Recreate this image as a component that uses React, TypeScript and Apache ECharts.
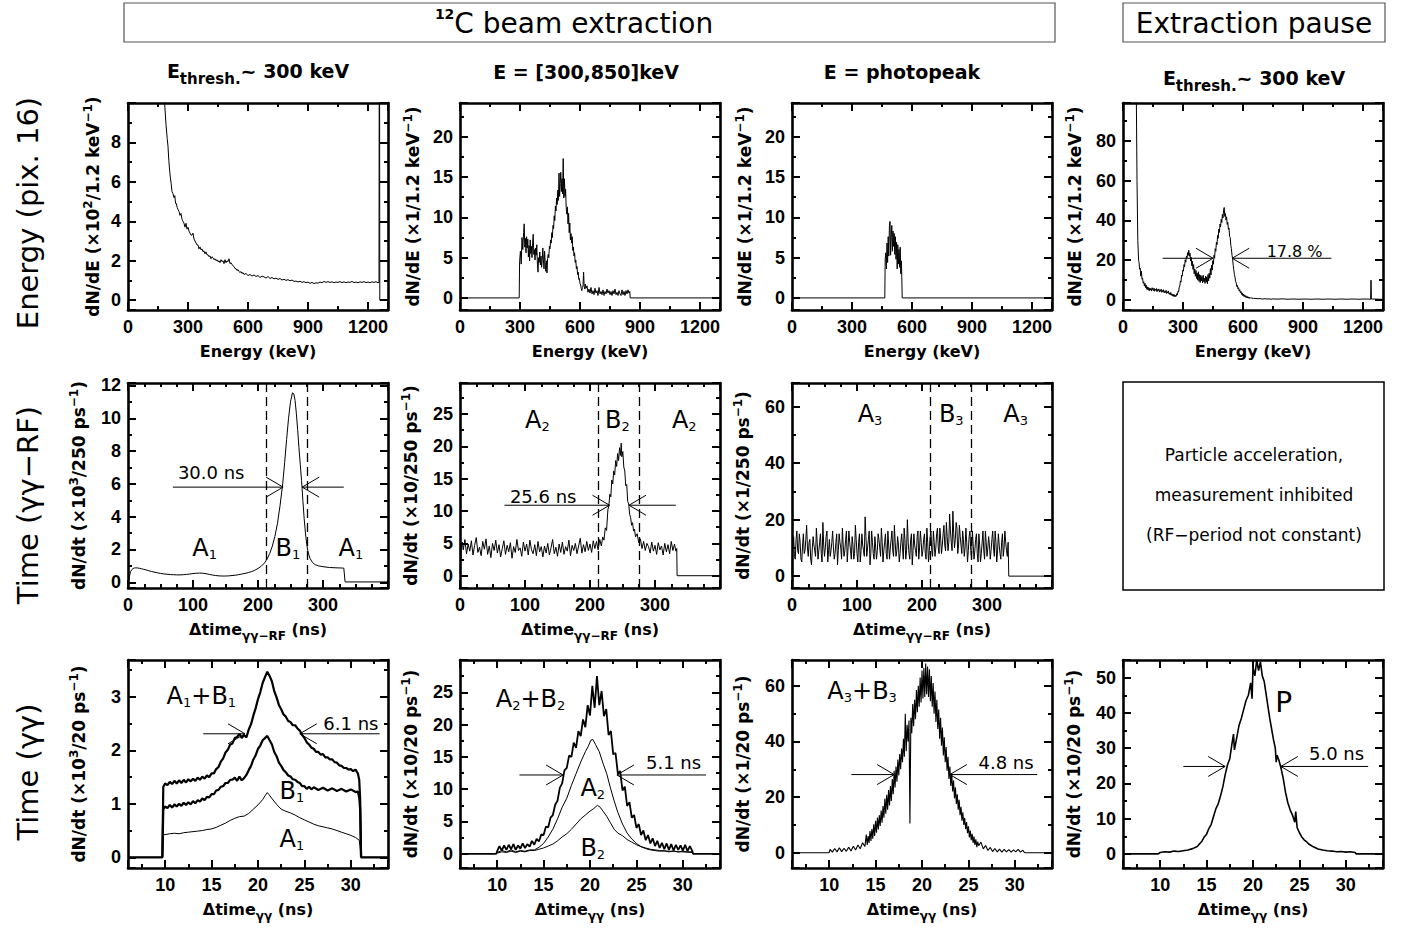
import React, { useEffect, useRef } from 'react';
import * as echarts from 'echarts';

const FONT = "'DejaVu Sans', 'Noto Sans', sans-serif";
const NUM_FONT = "'Liberation Sans', 'DejaVu Sans', sans-serif";

// ---------------- tick label lists ----------------
const ENERGY_TICKS = [0, 300, 600, 900, 1200];
const RF_TICKS = [0, 100, 200, 300];
const GG_TICKS = [10, 15, 20, 25, 30];
const P1_YTICKS = [0, 2, 4, 6, 8];
const E_WIN_YTICKS = [0, 5, 10, 15, 20];
const E_PAUSE_YTICKS = [0, 20, 40, 60, 80];
const RF1_YTICKS = [0, 2, 4, 6, 8, 10, 12];
const RF2_YTICKS = [0, 5, 10, 15, 20, 25];
const RF3_YTICKS = [0, 20, 40, 60];
const GG1_YTICKS = [0, 1, 2, 3];
const GG2_YTICKS = [0, 5, 10, 15, 20, 25];
const GG3_YTICKS = [0, 20, 40, 60];
const GG4_YTICKS = [0, 10, 20, 30, 40, 50];

// ---------------- row 1 : energy spectra (keV, counts) ----------------
const E_BEAM_THRESH = [
  [160, 14], [175, 11.5], [183, 10], [190, 8.9], [196, 8.2], [200, 7.8], [204, 7.1], [208, 6.6], [212, 6.2], [216, 5.9],
  [220, 5.5], [225, 5.4], [230, 5.2], [234, 5.3], [238, 4.9], [242, 4.9], [246, 4.7], [250, 4.6], [255, 4.5], [260, 4.3],
  [265, 4.4], [270, 4.1], [275, 4.0], [280, 3.9], [285, 3.7], [290, 3.9], [295, 3.6], [300, 3.7], [305, 3.5], [310, 3.4],
  [315, 3.3], [320, 3.3], [325, 3.4], [330, 3.1], [335, 3.0], [340, 2.9], [345, 2.8], [350, 2.8], [355, 2.6], [360, 2.7],
  [365, 2.55], [370, 2.6], [375, 2.45], [380, 2.5], [385, 2.35], [390, 2.45], [395, 2.3], [400, 2.3], [405, 2.2], [410, 2.25],
  [415, 2.1], [420, 2.2], [425, 2.15], [430, 2.05], [435, 2.1], [440, 2.0], [445, 2.05], [450, 1.95], [455, 2.0], [460, 1.9],
  [465, 2.05], [470, 1.95], [475, 2.0], [480, 1.85], [485, 2.05], [490, 1.9], [495, 2.0], [500, 1.95], [505, 2.1], [510, 1.85],
  [515, 1.9], [520, 1.8], [525, 1.75], [530, 1.7], [535, 1.6], [540, 1.6], [545, 1.5], [550, 1.55], [555, 1.45], [560, 1.4],
  [565, 1.45], [570, 1.35], [575, 1.4], [580, 1.3], [590, 1.35], [600, 1.25], [610, 1.3], [620, 1.22], [630, 1.28], [640, 1.2],
  [650, 1.25], [660, 1.15], [670, 1.22], [680, 1.18], [690, 1.12], [700, 1.2], [710, 1.1], [720, 1.15], [730, 1.08], [740, 1.12],
  [750, 1.05], [760, 1.1], [770, 1.02], [780, 1.06], [790, 1.0], [800, 1.04], [810, 0.98], [820, 1.02], [830, 0.95], [840, 0.97],
  [850, 0.92], [860, 0.96], [870, 0.9], [880, 0.94], [890, 0.88], [900, 0.92], [910, 0.85], [920, 0.9], [930, 0.84], [940, 0.88],
  [950, 0.86], [960, 0.92], [970, 0.88], [980, 0.95], [990, 0.9], [1000, 0.94], [1010, 0.9], [1020, 0.93], [1030, 0.88], [1040, 0.92],
  [1050, 0.9], [1060, 0.94], [1070, 0.89], [1080, 0.93], [1090, 0.88], [1100, 0.92], [1110, 0.9], [1120, 0.95], [1130, 0.89], [1140, 0.92],
  [1150, 0.88], [1160, 0.93], [1170, 0.9], [1180, 0.94], [1190, 0.89], [1200, 0.92], [1210, 0.88], [1220, 0.93], [1230, 0.9], [1240, 0.94],
  [1250, 0.88], [1255, 0.9], [1257, 20], [1259, 0], [1300, 0],
];

const E_BEAM_WINDOW = [
  [0, 0], [296, 0], [298, 4.5], [302, 5.8], [306, 4.2], [310, 7.5], [314, 6.0], [318, 8.1], [321, 9.2], [324, 6.3],
  [327, 7.4], [330, 5.6], [333, 7.6], [336, 6.2], [339, 7.3], [342, 5.1], [345, 6.5], [348, 4.6], [351, 7.2], [354, 5.5],
  [357, 6.4], [360, 5.0], [363, 6.8], [366, 7.9], [369, 5.4], [372, 6.0], [375, 4.7], [378, 6.2], [381, 5.3], [384, 6.6],
  [387, 4.2], [390, 3.2], [393, 5.0], [396, 4.4], [399, 5.7], [402, 4.1], [405, 5.2], [408, 3.8], [411, 4.6], [414, 6.2],
  [417, 4.8], [420, 3.6], [423, 5.8], [426, 4.4], [429, 3.3], [432, 4.6], [435, 3.1], [438, 4.9], [441, 5.4], [444, 5.0],
  [447, 6.4], [450, 6.1], [453, 7.2], [456, 6.8], [459, 8.1], [462, 7.5], [465, 9.0], [468, 8.6], [471, 10.2], [474, 9.6],
  [477, 11.4], [480, 10.8], [483, 12.4], [486, 11.6], [489, 13.4], [492, 12.1], [495, 15.5], [498, 12.6], [501, 14.2], [504, 15.6],
  [507, 13.2], [510, 14.8], [513, 12.9], [516, 17.3], [519, 12.4], [522, 14.8], [525, 12.6], [528, 13.5], [531, 11.2], [534, 10.4],
  [537, 11.3], [540, 9.2], [543, 10.5], [546, 8.1], [549, 9.3], [552, 7.2], [555, 8.0], [558, 6.8], [561, 7.6], [564, 5.9],
  [567, 6.3], [570, 5.2], [573, 5.6], [576, 4.4], [579, 4.7], [582, 3.6], [585, 3.9], [588, 2.9], [591, 3.2], [594, 2.3],
  [597, 2.4], [600, 1.8], [603, 1.6], [606, 1.2], [609, 0.9], [612, 1.3], [615, 1.5], [618, 3.2], [621, 1.4], [624, 1.1],
  [627, 1.7], [630, 1.2], [635, 1.5], [640, 0.7], [645, 1.1], [650, 0.6], [655, 1.3], [660, 0.5], [665, 0.9], [670, 0.4],
  [675, 1.2], [680, 0.6], [685, 0.9], [690, 0.3], [695, 1.3], [700, 0.5], [705, 0.8], [710, 0.4], [715, 1.0], [720, 0.3],
  [725, 0.8], [730, 0.5], [735, 1.1], [740, 0.6], [745, 0.9], [750, 0.4], [755, 0.8], [760, 0.3], [765, 0.9], [770, 0.5],
  [775, 1.1], [780, 0.4], [785, 0.7], [790, 0.3], [795, 0.9], [800, 0.5], [805, 0.3], [810, 1.0], [815, 0.4], [820, 0.8],
  [825, 0.3], [830, 0.9], [835, 0.5], [840, 1.0], [845, 0.6], [849, 0.8], [851, 0], [1300, 0],
];

const E_BEAM_PHOTOPEAK = [
  [0, 0], [464, 0], [466, 4.8], [469, 5.6], [472, 3.6], [475, 6.8], [478, 4.4], [481, 7.6], [484, 5.2], [487, 8.8],
  [490, 9.5], [493, 5.3], [496, 7.5], [499, 9.0], [502, 5.8], [505, 8.3], [508, 6.4], [511, 8.0], [514, 5.4], [517, 7.6],
  [520, 4.8], [523, 6.9], [526, 3.6], [529, 6.6], [532, 4.2], [535, 6.0], [538, 3.8], [541, 6.3], [544, 3.0], [547, 4.6],
  [549, 2.5], [551, 0], [1300, 0],
];

const E_PAUSE_THRESH = [
  [62, 120], [66, 110], [70, 60], [74, 30], [78, 20], [80, 19], [83, 15.5], [86, 16], [89, 12], [92, 14.5],
  [95, 10.5], [98, 11], [101, 8.5], [104, 9.2], [107, 7], [110, 8.4], [113, 6.2], [116, 7.5], [119, 5.4], [122, 6.6],
  [125, 5.1], [128, 6.3], [131, 4.6], [134, 6.0], [137, 5.0], [140, 5.8], [143, 4.5], [146, 6.2], [149, 5.2], [152, 4.8],
  [155, 6.0], [158, 4.4], [161, 5.5], [164, 4.9], [167, 5.8], [170, 4.2], [173, 5.3], [176, 4.7], [179, 5.6], [182, 4.0],
  [185, 5.1], [188, 4.4], [191, 5.5], [194, 3.9], [197, 4.8], [200, 4.1], [203, 5.2], [206, 3.6], [209, 4.4], [212, 3.8],
  [215, 4.9], [218, 3.3], [221, 4.2], [224, 3.5], [227, 4.6], [230, 3.0], [233, 3.6], [236, 2.6], [239, 3.8], [242, 2.4],
  [245, 3.1], [248, 2.0], [251, 2.9], [254, 1.8], [257, 2.7], [260, 1.6], [263, 2.4], [266, 1.9], [269, 3.2], [272, 2.5],
  [275, 4.4], [278, 4.0], [281, 6.5], [284, 7.0], [287, 9.6], [290, 9.0], [293, 12.5], [296, 12.0], [299, 15.0], [302, 14.5],
  [305, 17.8], [308, 16.8], [311, 20.2], [314, 19.0], [317, 22.1], [320, 21.2], [323, 23.8], [326, 22.4], [329, 25.0], [332, 22.0],
  [335, 23.5], [338, 19.6], [341, 21.5], [344, 17.2], [347, 19.5], [350, 15.4], [353, 17.8], [356, 13.2], [359, 15.6], [362, 12.0],
  [365, 14.8], [368, 10.8], [371, 13.5], [374, 10.0], [377, 14.2], [380, 9.4], [383, 12.8], [386, 8.8], [389, 12.4], [392, 9.6],
  [395, 11.8], [398, 8.6], [401, 12.5], [404, 9.2], [407, 11.0], [410, 8.4], [413, 12.0], [416, 9.0], [419, 11.6], [422, 8.2],
  [425, 12.8], [428, 9.6], [431, 13.5], [434, 11.0], [437, 15.8], [440, 12.6], [443, 17.5], [446, 15.0], [449, 19.8], [452, 18.0],
  [455, 22.5], [458, 21.0], [461, 25.8], [464, 24.5], [467, 29.0], [470, 27.8], [473, 32.5], [476, 31.0], [479, 35.6], [482, 34.0],
  [485, 38.2], [488, 36.8], [491, 40.5], [494, 39.0], [497, 43.0], [500, 41.2], [503, 45.2], [506, 46.5], [509, 42.0], [512, 43.5],
  [515, 40.2], [518, 41.8], [521, 38.0], [524, 39.0], [527, 35.5], [530, 36.2], [533, 32.0], [536, 31.5], [539, 27.5], [542, 25.8],
  [545, 22.5], [548, 20.8], [551, 17.5], [554, 15.2], [557, 12.8], [560, 11.5], [563, 9.4], [566, 8.6], [569, 6.8], [572, 7.4],
  [575, 5.6], [578, 6.2], [581, 4.5], [584, 5.2], [587, 3.6], [590, 4.3], [593, 2.8], [596, 3.6], [599, 2.2], [602, 3.0],
  [605, 1.8], [608, 2.6], [611, 1.4], [614, 2.2], [617, 1.2], [620, 1.9], [623, 1.0], [626, 1.6], [629, 0.9], [632, 1.4],
  [635, 0.8], [640, 1.3], [645, 0.7], [650, 1.1], [655, 0.6], [660, 1.0], [665, 0.6], [670, 0.9], [675, 0.5], [680, 0.8],
  [690, 0.6], [700, 0.5], [710, 0.7], [720, 0.5], [730, 0.6], [740, 0.4], [750, 0.6], [760, 0.5], [780, 0.5], [800, 0.6],
  [820, 0.4], [840, 0.5], [860, 0.5], [880, 0.4], [900, 0.5], [920, 0.5], [940, 0.4], [960, 0.5], [980, 0.5], [1000, 0.4],
  [1020, 0.5], [1040, 0.5], [1060, 0.4], [1080, 0.5], [1100, 0.5], [1120, 0.4], [1140, 0.5], [1160, 0.5], [1180, 0.4], [1200, 0.5],
  [1220, 0.5], [1238, 0.4], [1240, 10], [1242, 0.5], [1260, 0.5], [1280, 0.4], [1300, 0.4],
];

// ---------------- row 2 : gamma-gamma minus RF time (ns, counts) ----------------
const RF_THRESH = [
  [1, 0.1], [2, 0.3], [3, 0.5], [4, 0.65], [6, 0.78], [8, 0.84], [10, 0.87], [12, 0.88], [15, 0.87], [18, 0.85],
  [21, 0.82], [24, 0.79], [28, 0.75], [32, 0.7], [36, 0.66], [40, 0.62], [45, 0.58], [50, 0.54], [55, 0.51], [60, 0.49],
  [65, 0.47], [70, 0.46], [75, 0.45], [80, 0.45], [85, 0.46], [90, 0.48], [95, 0.5], [100, 0.53], [105, 0.55], [110, 0.56],
  [115, 0.55], [120, 0.52], [125, 0.48], [130, 0.44], [135, 0.41], [140, 0.39], [145, 0.38], [150, 0.38], [155, 0.39], [160, 0.41],
  [165, 0.43], [170, 0.46], [175, 0.5], [180, 0.54], [185, 0.59], [190, 0.65], [195, 0.73], [200, 0.84], [205, 0.98], [210, 1.18],
  [214, 1.42], [218, 1.75], [222, 2.2], [226, 2.8], [230, 3.6], [234, 4.7], [238, 6.0], [241, 7.3], [244, 8.7], [247, 10.0],
  [250, 11.0], [253, 11.55], [255, 11.5], [257, 11.1], [259, 10.3], [261, 9.3], [263, 8.2], [265, 7.2], [267, 6.2], [269, 5.0],
  [271, 3.9], [273, 3.0], [275, 2.3], [277, 1.85], [280, 1.45], [284, 1.2], [288, 1.07], [293, 1.0], [300, 0.95], [310, 0.9],
  [320, 0.88], [328, 0.87], [332, 0.86], [333, 0.85], [334, 0.02], [400, 0.02],
];

const RF_WINDOW = [
  [0, 0.3], [1, 2.2], [2, 3.9], [3.5, 5.2], [5, 4.0], [7.5, 5.6], [10, 3.4], [12.5, 4.9], [15, 3.8], [17.5, 5.4],
  [20, 3.2], [22.5, 4.7], [25, 5.9], [27.5, 3.6], [30, 4.4], [32.5, 3.1], [35, 5.3], [37.5, 4.1], [40, 5.7], [42.5, 3.3],
  [45, 4.6], [47.5, 2.8], [50, 5.0], [52.5, 3.9], [55, 5.5], [57.5, 3.5], [60, 4.8], [62.5, 2.9], [65, 4.2], [67.5, 5.4],
  [70, 3.3], [72.5, 4.7], [75, 3.7], [77.5, 5.1], [80, 2.7], [82.5, 4.5], [85, 3.6], [87.5, 5.6], [90, 3.9], [92.5, 4.3],
  [95, 3.0], [97.5, 5.2], [100, 3.8], [102.5, 4.9], [105, 3.2], [107.5, 5.5], [110, 4.0], [112.5, 3.4], [115, 4.8], [117.5, 3.1],
  [120, 5.3], [122.5, 3.7], [125, 4.5], [127.5, 2.9], [130, 4.6], [132.5, 3.5], [135, 5.0], [137.5, 3.2], [140, 4.3], [142.5, 5.6],
  [145, 3.4], [147.5, 4.4], [150, 3.0], [152.5, 4.9], [155, 3.6], [157.5, 5.2], [160, 3.3], [162.5, 4.5], [165, 3.8], [167.5, 5.5],
  [170, 3.1], [172.5, 4.7], [175, 3.9], [177.5, 5.0], [180, 3.4], [182.5, 4.6], [185, 5.8], [187.5, 3.5], [190, 4.8], [192.5, 3.7],
  [195, 5.3], [197.5, 3.9], [200, 4.9], [202.5, 3.6], [205, 5.4], [207.5, 4.2], [210, 5.3], [212.5, 4.0], [215, 5.6], [217.5, 4.6],
  [219.5, 6.0], [221.5, 5.5], [223.5, 7.4], [225.5, 7.0], [227.5, 10.2], [229, 10.8], [230.5, 12.6], [232, 12.2], [233.5, 14.8], [235, 14.2],
  [236.5, 16.2], [238, 15.6], [239.5, 17.8], [241, 16.9], [242.5, 18.9], [244, 17.8], [245.5, 19.8], [247, 18.6], [248, 20.5], [249, 18.4],
  [250.5, 19.2], [252, 16.8], [253.5, 16.2], [255, 13.9], [256.5, 14.1], [258, 11.5], [259.5, 11.1], [261, 9.5], [262.5, 9.0], [264, 7.8],
  [265.5, 8.2], [267, 6.9], [268.5, 7.2], [270, 6.0], [272.5, 6.5], [275, 5.1], [277.5, 5.7], [280, 4.2], [282.5, 5.3], [285, 3.9],
  [287.5, 5.0], [290, 4.5], [292.5, 3.5], [295, 5.2], [297.5, 3.8], [300, 4.7], [302.5, 3.3], [305, 5.1], [307.5, 4.0], [310, 4.6],
  [312.5, 3.2], [315, 5.0], [317.5, 3.7], [320, 4.8], [322.5, 3.4], [325, 5.3], [327.5, 3.9], [330, 4.9], [332, 3.8], [333.5, 4.2],
  [334, 0], [400, 0],
];

const RF_PHOTOPEAK = [
  [0, 0.5], [0.6, 8], [1.25, 11], [2.5, 14], [3.75, 7], [5, 6], [6.25, 13], [7.5, 16], [8.75, 9], [10, 8],
  [11.25, 15], [12.5, 12], [13.75, 6], [15, 5], [16.25, 11], [17.5, 15], [18.75, 8], [20, 9], [21.25, 13], [22.5, 18],
  [23.75, 10], [25, 7], [26.25, 12], [27.5, 13], [28.75, 6], [30, 4], [31.25, 10], [32.5, 14], [33.75, 11], [35, 9],
  [36.25, 7], [37.5, 17], [38.75, 12], [40, 6], [41.25, 9], [42.5, 12], [43.75, 15], [45, 8], [46.25, 5], [47.5, 19],
  [48.75, 11], [50, 7], [51.25, 10], [52.5, 14], [53.75, 16], [55, 5], [56.25, 9], [57.5, 13], [58.75, 7], [60, 9],
  [61.25, 12], [62.5, 16], [63.75, 10], [65, 6], [66.25, 8], [67.5, 12], [68.75, 15], [70, 4], [71.25, 9], [72.5, 15],
  [73.75, 12], [75, 10], [76.25, 6], [77.5, 17], [78.75, 11], [80, 7], [81.25, 9], [82.5, 13], [83.75, 16], [85, 5],
  [86.25, 10], [87.5, 16], [88.75, 12], [90, 9], [91.25, 6], [92.5, 14], [93.75, 11], [95, 6], [96.25, 8], [97.5, 18],
  [98.75, 13], [100, 8], [101.25, 5], [102.5, 12], [103.75, 15], [105, 5], [106.25, 9], [107.5, 15], [108.75, 11], [110, 9],
  [111.25, 7], [112.5, 21], [113.75, 14], [115, 7], [116.25, 10], [117.5, 13], [118.75, 16], [120, 4], [121.25, 8], [122.5, 16],
  [123.75, 12], [125, 8], [126.25, 6], [127.5, 14], [128.75, 10], [130, 6], [131.25, 9], [132.5, 15], [133.75, 13], [135, 10],
  [136.25, 7], [137.5, 17], [138.75, 12], [140, 5], [141.25, 9], [142.5, 12], [143.75, 15], [145, 8], [146.25, 6], [147.5, 16],
  [148.75, 11], [150, 6], [151.25, 10], [152.5, 13], [153.75, 16], [155, 9], [156.25, 7], [157.5, 18], [158.75, 12], [160, 7],
  [161.25, 9], [162.5, 14], [163.75, 11], [165, 5], [166.25, 8], [167.5, 12], [168.75, 15], [170, 10], [171.25, 6], [172.5, 17],
  [173.75, 13], [175, 6], [176.25, 9], [177.5, 20], [178.75, 12], [180, 8], [181.25, 6], [182.5, 13], [183.75, 15], [185, 4],
  [186.25, 9], [187.5, 15], [188.75, 11], [190, 9], [191.25, 7], [192.5, 14], [193.75, 16], [195, 6], [196.25, 10], [197.5, 16],
  [198.75, 12], [200, 7], [201.25, 9], [202.5, 13], [203.75, 15], [205, 8], [206.25, 6], [207.5, 17], [208.75, 12], [210, 5],
  [211.25, 9], [212.5, 14], [213.75, 16], [215, 9], [216.25, 7], [217.5, 16], [218.75, 12], [220, 7], [221.25, 10], [222.5, 15],
  [223.75, 17], [225, 10], [226.25, 8], [227.5, 17], [228.75, 13], [230, 8], [231.25, 11], [232.5, 15], [233.75, 18], [235, 11],
  [236.25, 9], [237.5, 19], [238.75, 14], [240, 9], [241.25, 12], [242.5, 22], [243.75, 16], [245, 12], [246.25, 9], [247.5, 23],
  [248.75, 15], [250, 10], [251.25, 13], [252.5, 19], [253.75, 17], [255, 8], [256.25, 11], [257.5, 18], [258.75, 14], [260, 11],
  [261.25, 8], [262.5, 16], [263.75, 13], [265, 7], [266.25, 10], [267.5, 17], [268.75, 12], [270, 5], [271.25, 9], [272.5, 14],
  [273.75, 16], [275, 9], [276.25, 6], [277.5, 16], [278.75, 11], [280, 6], [281.25, 9], [282.5, 13], [283.75, 15], [285, 8],
  [286.25, 5], [287.5, 15], [288.75, 11], [290, 5], [291.25, 8], [292.5, 12], [293.75, 16], [295, 9], [296.25, 6], [297.5, 16],
  [298.75, 12], [300, 7], [301.25, 10], [302.5, 14], [303.75, 11], [305, 6], [306.25, 9], [307.5, 13], [308.75, 16], [310, 10],
  [311.25, 7], [312.5, 16], [313.75, 12], [315, 5], [316.25, 9], [317.5, 15], [318.75, 11], [320, 8], [321.25, 6], [322.5, 12],
  [323.75, 15], [325, 7], [326.25, 10], [327.5, 16], [328.75, 12], [330, 9], [331.25, 7], [332.5, 12], [333.5, 0], [400, 0],
];

// ---------------- row 3 : gamma-gamma time (ns, counts) ----------------
const GG_THRESH_AB = [
  [6, 0], [9.7, 0], [9.8, 1.32], [10, 1.38], [10.25, 1.35], [10.5, 1.41], [10.75, 1.37], [11, 1.43], [11.25, 1.38], [11.5, 1.44],
  [11.75, 1.39], [12, 1.45], [12.25, 1.40], [12.5, 1.46], [12.75, 1.42], [13, 1.47], [13.25, 1.43], [13.5, 1.49], [13.75, 1.45], [14, 1.51],
  [14.25, 1.47], [14.5, 1.53], [14.75, 1.50], [15, 1.57], [15.25, 1.57], [15.5, 1.65], [15.75, 1.69], [16, 1.79], [16.25, 1.85], [16.5, 1.96],
  [16.75, 2.01], [17, 2.11], [17.25, 2.13], [17.5, 2.23], [17.75, 2.25], [18, 2.31], [18.25, 2.23], [18.5, 2.29], [18.75, 2.24], [19, 2.39],
  [19.25, 2.49], [19.5, 2.65], [19.75, 2.79], [20, 2.96], [20.25, 3.09], [20.5, 3.26], [20.75, 3.37], [21, 3.47], [21.25, 3.39], [21.5, 3.29],
  [21.75, 3.11], [22, 2.99], [22.25, 2.85], [22.5, 2.77], [22.75, 2.67], [23, 2.63], [23.25, 2.55], [23.5, 2.53], [23.75, 2.47], [24, 2.47],
  [24.25, 2.41], [24.5, 2.37], [24.75, 2.29], [25, 2.23], [25.25, 2.15], [25.5, 2.11], [25.75, 2.05], [26, 2.03], [26.25, 1.97], [26.5, 1.97],
  [26.75, 1.92], [27, 1.93], [27.25, 1.87], [27.5, 1.87], [27.75, 1.83], [28, 1.83], [28.25, 1.78], [28.5, 1.77], [28.75, 1.72], [29, 1.71],
  [29.25, 1.67], [29.5, 1.67], [29.75, 1.64], [30, 1.65], [30.25, 1.61], [30.5, 1.64], [30.75, 1.57], [30.9, 1.45], [31, 1.1], [31.1, 0],
  [34, 0],
];

const GG_THRESH_B = [
  [9.7, 0], [9.8, 0.9], [10, 0.95], [10.25, 0.92], [10.5, 0.98], [10.75, 0.93], [11, 0.99], [11.25, 0.95], [11.5, 1.0], [11.75, 0.96],
  [12, 1.02], [12.25, 0.98], [12.5, 1.03], [12.75, 0.99], [13, 1.05], [13.25, 1.01], [13.5, 1.07], [13.75, 1.04], [14, 1.1], [14.25, 1.07],
  [14.5, 1.13], [14.75, 1.12], [15, 1.18], [15.25, 1.18], [15.5, 1.25], [15.75, 1.26], [16, 1.32], [16.25, 1.33], [16.5, 1.39], [16.75, 1.39],
  [17, 1.45], [17.25, 1.45], [17.5, 1.49], [17.75, 1.43], [18, 1.51], [18.25, 1.44], [18.5, 1.48], [18.75, 1.54], [19, 1.63], [19.25, 1.71],
  [19.5, 1.83], [19.75, 1.91], [20, 2.03], [20.25, 2.09], [20.5, 2.19], [20.75, 2.23], [21, 2.27], [21.25, 2.19], [21.5, 2.11], [21.75, 1.97],
  [22, 1.89], [22.25, 1.77], [22.5, 1.71], [22.75, 1.63], [23, 1.59], [23.25, 1.53], [23.5, 1.51], [23.75, 1.46], [24, 1.45], [24.25, 1.41],
  [24.5, 1.39], [24.75, 1.33], [25, 1.33], [25.25, 1.28], [25.5, 1.32], [25.75, 1.27], [26, 1.31], [26.5, 1.26], [27, 1.3], [27.5, 1.25],
  [28, 1.29], [28.5, 1.24], [29, 1.28], [29.5, 1.23], [30, 1.27], [30.5, 1.22], [30.75, 1.23], [30.9, 1.12], [31, 0.9], [31.1, 0],
];

const GG_THRESH_A = [
  [6, 0], [9.7, 0], [9.8, 0.42], [10.5, 0.44], [11, 0.45], [11.5, 0.44], [12, 0.46], [12.5, 0.47], [13, 0.48], [13.5, 0.49],
  [14, 0.5], [14.5, 0.52], [15, 0.53], [15.5, 0.56], [16, 0.6], [16.5, 0.64], [17, 0.69], [17.5, 0.73], [18, 0.76], [18.5, 0.77],
  [19, 0.82], [19.5, 0.9], [20, 0.98], [20.5, 1.08], [20.8, 1.16], [21, 1.21], [21.2, 1.17], [21.5, 1.1], [22, 0.99], [22.5, 0.9],
  [23, 0.86], [23.5, 0.83], [24, 0.79], [24.5, 0.74], [25, 0.7], [25.5, 0.66], [26, 0.62], [26.5, 0.59], [27, 0.57], [27.5, 0.55],
  [28, 0.53], [28.5, 0.5], [29, 0.47], [29.5, 0.44], [30, 0.41], [30.5, 0.37], [30.9, 0.32], [31, 0.2], [31.1, 0], [34, 0],
];

const GG_WINDOW_AB = [
  [6, 0], [9.9, 0], [10, 0.4], [10.25, 1.2], [10.5, 0.5], [10.75, 1.3], [11, 0.6], [11.25, 1.4], [11.5, 0.7], [11.75, 1.5],
  [12, 0.6], [12.25, 1.3], [12.5, 0.8], [12.75, 1.6], [13, 0.9], [13.25, 1.5], [13.5, 1.1], [13.75, 2.0], [14, 1.4], [14.25, 2.3],
  [14.5, 1.9], [14.75, 3.0], [15, 2.9], [15.25, 4.2], [15.5, 4.1], [15.75, 5.6], [16, 6.0], [16.25, 7.6], [16.5, 8.2], [16.75, 10.2],
  [17, 10.9], [17.25, 12.9], [17.5, 13.3], [17.75, 15.2], [18, 15.0], [18.25, 17.2], [18.5, 16.4], [18.75, 19.0], [19, 18.2], [19.25, 20.8],
  [19.5, 19.6], [19.75, 23.0], [20, 21.4], [20.25, 26.0], [20.5, 22.6], [20.75, 27.5], [21, 23.0], [21.25, 25.2], [21.5, 21.3], [21.75, 22.4],
  [22, 18.4], [22.25, 19.0], [22.5, 15.4], [22.75, 15.6], [23, 12.4], [23.25, 12.8], [23.5, 9.8], [23.75, 10.4], [24, 7.4], [24.25, 8.0],
  [24.5, 5.6], [24.75, 6.0], [25, 4.0], [25.25, 4.6], [25.5, 2.9], [25.75, 3.6], [26, 2.1], [26.25, 2.9], [26.5, 1.6], [26.75, 2.4],
  [27, 1.2], [27.25, 2.0], [27.5, 0.9], [27.75, 1.7], [28, 0.7], [28.25, 1.6], [28.5, 0.6], [28.75, 1.5], [29, 0.5], [29.25, 1.4],
  [29.5, 0.6], [29.75, 1.3], [30, 0.5], [30.25, 1.4], [30.5, 0.4], [30.75, 1.2], [31, 0.5], [31.1, 0], [34, 0],
];

const GG_WINDOW_A = [
  [10, 0.2], [10.5, 0.5], [11, 0.3], [11.5, 0.6], [12, 0.3], [12.5, 0.5], [13, 0.4], [13.5, 0.6], [14, 0.6], [14.5, 1.0],
  [15, 1.6], [15.5, 2.6], [16, 3.8], [16.5, 5.4], [17, 7.2], [17.5, 8.6], [18, 10.6], [18.5, 12.4], [19, 14.2], [19.5, 15.8],
  [19.8, 16.6], [20.1, 17.6], [20.3, 17.7], [20.6, 16.9], [21, 15.8], [21.4, 14.0], [21.8, 12.4], [22.2, 10.2], [22.6, 8.2], [23, 6.4],
  [23.5, 4.6], [24, 3.2], [24.5, 2.3], [25, 1.6], [25.5, 1.1], [26, 0.8], [26.5, 0.6], [27, 0.5], [27.5, 0.4], [28, 0.5],
  [28.5, 0.3], [29, 0.4], [29.5, 0.3], [30, 0.4], [30.5, 0.3], [31, 0.3],
];

const GG_WINDOW_B = [
  [10, 0.1], [10.5, 0.3], [11, 0.2], [11.5, 0.4], [12, 0.2], [12.5, 0.4], [13, 0.3], [13.5, 0.5], [14, 0.5], [14.5, 0.7],
  [15, 0.9], [15.5, 1.2], [16, 1.5], [16.5, 2.0], [17, 2.6], [17.5, 3.1], [18, 3.8], [18.5, 4.6], [19, 5.4], [19.5, 6.0],
  [20, 6.6], [20.4, 7.0], [20.8, 7.5], [21.1, 7.2], [21.4, 6.6], [21.8, 5.8], [22.2, 4.8], [22.6, 3.8], [23, 3.2], [23.5, 2.8],
  [24, 2.2], [24.5, 1.8], [25, 1.4], [25.5, 1.1], [26, 0.9], [26.5, 0.7], [27, 0.6], [27.5, 0.5], [28, 0.4], [29, 0.4],
  [29.5, 0.3], [30, 0.3], [31, 0.2],
];

const GG_PHOTOPEAK_AB = [
  [6, 0], [10, 0], [10.1, 1.2], [10.35, 0.2], [10.6, 1.5], [10.85, 0.3], [11.1, 1.8], [11.35, 0.4], [11.6, 1.6], [11.85, 0.5],
  [12.1, 2.0], [12.35, 0.6], [12.6, 2.3], [12.85, 1.0], [13.1, 2.8], [13.35, 1.4], [13.6, 3.6], [13.85, 2.2],
  [14.0, 6.5], [14.1, 2.8], [14.2, 6.0], [14.3, 3.5], [14.4, 7.8], [14.5, 4.2], [14.6, 8.5], [14.7, 5.0], [14.8, 10.2], [14.9, 6.0],
  [15.0, 11.5], [15.1, 7.2], [15.2, 12.6], [15.3, 8.4], [15.4, 13.5], [15.5, 9.6], [15.6, 15.2], [15.7, 10.8], [15.8, 16.8], [15.9, 12.6],
  [16.0, 19.5], [16.1, 14.0], [16.2, 20.8], [16.3, 15.5], [16.4, 22.5], [16.5, 17.0], [16.6, 24.0], [16.7, 18.6], [16.8, 26.5], [16.9, 21.0],
  [17.0, 29.5], [17.1, 23.5], [17.2, 31.0], [17.3, 25.5], [17.4, 33.5], [17.5, 27.8], [17.6, 35.5], [17.7, 30.0], [17.8, 37.5], [17.9, 32.5],
  [18.0, 41.0], [18.1, 34.5], [18.2, 50.0], [18.3, 36.5], [18.4, 46.0], [18.5, 40.0], [18.6, 47.5], [18.7, 10.5], [18.8, 48.5], [18.9, 43.0],
  [19.0, 53.5], [19.1, 45.5], [19.2, 55.0], [19.3, 48.0], [19.4, 58.5], [19.5, 50.5], [19.6, 60.0], [19.7, 52.5], [19.8, 63.0], [19.9, 54.0],
  [20.0, 65.5], [20.1, 55.5], [20.2, 66.5], [20.3, 56.0], [20.4, 68.0], [20.5, 57.0], [20.6, 67.0], [20.7, 56.0], [20.8, 66.0], [20.9, 54.5],
  [21.0, 63.5], [21.1, 52.5], [21.2, 61.0], [21.3, 50.0], [21.4, 58.0], [21.5, 47.0], [21.6, 55.0], [21.7, 44.5], [21.8, 51.5], [21.9, 41.0],
  [22.0, 48.5], [22.1, 38.5], [22.2, 45.0], [22.3, 35.0], [22.4, 41.5], [22.5, 32.5], [22.6, 38.0], [22.7, 29.5], [22.8, 34.5], [22.9, 26.5],
  [23.0, 31.0], [23.1, 24.0], [23.2, 28.5], [23.3, 22.0], [23.4, 26.0], [23.5, 19.5], [23.6, 23.5], [23.7, 17.5], [23.8, 21.0], [23.9, 15.5],
  [24.0, 19.0], [24.1, 13.5], [24.2, 16.5], [24.3, 11.5], [24.4, 14.5], [24.5, 10.0], [24.6, 12.5], [24.7, 8.5], [24.8, 11.0], [24.9, 7.0],
  [25.0, 9.5], [25.1, 5.5], [25.2, 8.0], [25.3, 4.5], [25.4, 6.8], [25.5, 3.5], [25.6, 5.8], [25.7, 2.8], [25.8, 4.8], [25.9, 2.0],
  [26.0, 4.0], [26.1, 2.5], [26.35, 3.8], [26.6, 1.4], [26.85, 2.6], [27.1, 0.8], [27.35, 1.9], [27.6, 0.4], [27.85, 1.5], [28.1, 0.3],
  [28.35, 1.3], [28.6, 0.2], [28.85, 1.2], [29.1, 0.3], [29.35, 1.1], [29.6, 0.2], [29.85, 1.0], [30.1, 0.3], [30.35, 1.2], [30.6, 0.2],
  [30.85, 0.9], [31, 0.2], [31.1, 0], [34, 0],
];

const GG_PAUSE_P = [
  [6, 0], [9.8, 0], [10, 0.4], [10.5, 0.6], [11, 0.5], [11.5, 0.8], [12, 0.7], [12.5, 0.9], [13, 1.1], [13.5, 1.5],
  [14, 2.1], [14.25, 2.9], [14.5, 3.6], [14.75, 4.8], [15, 5.6], [15.25, 7.2], [15.5, 8.4], [15.75, 10.6], [16, 12.8], [16.25, 14.2],
  [16.5, 16.4], [16.75, 19.0], [17, 22.4], [17.25, 25.2], [17.5, 27.0], [17.75, 31.5], [17.9, 34.0], [18, 29.5], [18.25, 33.0], [18.5, 36.5],
  [18.75, 38.5], [19, 41.0], [19.25, 43.5], [19.5, 45.0], [19.75, 48.5], [19.9, 44.0], [20, 53.0], [20.2, 50.5], [20.4, 55.0], [20.6, 52.0],
  [20.8, 54.5], [21, 50.5], [21.2, 49.0], [21.4, 45.5], [21.6, 42.0], [21.8, 38.5], [22, 35.5], [22.2, 32.5], [22.4, 30.0], [22.5, 26.0],
  [22.6, 28.0], [22.8, 26.5], [23, 24.5], [23.25, 21.5], [23.5, 17.5], [23.75, 14.5], [24, 12.5], [24.25, 11.0], [24.5, 9.0], [24.6, 12.0],
  [24.75, 7.5], [25, 6.0], [25.25, 4.8], [25.5, 4.0], [25.75, 3.5], [26, 2.8], [26.5, 2.0], [27, 1.4], [27.5, 1.1], [28, 0.9],
  [28.5, 0.8], [29, 0.6], [29.5, 0.7], [30, 0.5], [30.5, 0.6], [31, 0.4], [31.1, 0], [34, 0],
];

// ---------------- annotations (data coordinates) ----------------
const RF_GATE = [213, 276];
// [left shaft start, left arrow tip, right arrow tip, right shaft end, level]
const E_PAUSE_FWHM = [[198, 450, 546, 1042, 21]];
const RF_THRESH_FWHM = [[69, 238.6, 268, 332, 5.8]];
const RF_WINDOW_FWHM = [[68.5, 230, 260, 332, 10.9]];
const GG_THRESH_FWHM = [[14.1, 18.6, 24.5, 33.1, 2.31]];
const GG_WINDOW_FWHM = [[12.4, 17.1, 22.9, 32.5, 12.2]];
const GG_PHOTOPEAK_FWHM = [[12.4, 17.0, 23.0, 32.4, 28.1]];
const GG_PAUSE_FWHM = [[12.5, 17.0, 23.0, 32.4, 24.8]];

const E_PAUSE_NOTES = [['17.8 %', 858, 24.3]];
const RF_THRESH_NOTES = [['30.0 ns', 128, 6.7]];
const RF_WINDOW_NOTES = [['25.6 ns', 128, 12.3]];
const GG_THRESH_NOTES = [['6.1 ns', 30.0, 2.51]];
const GG_WINDOW_NOTES = [['5.1 ns', 29.0, 14.2]];
const GG_PHOTOPEAK_NOTES = [['4.8 ns', 29.05, 32.5]];
const GG_PAUSE_NOTES = [['5.0 ns', 29.0, 28.4]];

const RF_THRESH_TAGS = [['{m|A}{s|1}', 118, 2.0], ['{m|B}{s|1}', 246, 2.0], ['{m|A}{s|1}', 343, 2.0]];
const RF_WINDOW_TAGS = [['{m|A}{s|2}', 119, 23.9], ['{m|B}{s|2}', 242, 23.9], ['{m|A}{s|2}', 345, 23.9]];
const RF_PHOTOPEAK_TAGS = [['{m|A}{s|3}', 120, 57], ['{m|B}{s|3}', 245, 57], ['{m|A}{s|3}', 344, 57]];
const GG_THRESH_TAGS = [['{m|A}{s|1}{m|+B}{s|1}', 13.9, 3.0], ['{m|B}{s|1}', 23.65, 1.23], ['{m|A}{s|1}', 23.65, 0.33]];
const GG_WINDOW_TAGS = [['{m|A}{s|2}{m|+B}{s|2}', 13.6, 23.8], ['{m|A}{s|2}', 20.3, 10.1], ['{m|B}{s|2}', 20.3, 0.8]];
const GG_PHOTOPEAK_TAGS = [['{m|A}{s|3}{m|+B}{s|3}', 13.55, 57.8]];
const GG_PAUSE_TAGS = [['{m|P}', 23.3, 42.8]];

// ---------------- axis titles ----------------
const YN_E100 = '{b|dN/dE (×10}{p|2}{b|/1.2 keV}{p|−1}{b|)}';
const YN_E1 = '{b|dN/dE (×1/1.2 keV}{p|−1}{b|)}';
const YN_RF1000 = '{b|dN/dt (×10}{p|3}{b|/250 ps}{p|−1}{b|)}';
const YN_RF10 = '{b|dN/dt (×10/250 ps}{p|−1}{b|)}';
const YN_RF1 = '{b|dN/dt (×1/250 ps}{p|−1}{b|)}';
const YN_GG1000 = '{b|dN/dt (×10}{p|3}{b|/20 ps}{p|−1}{b|)}';
const YN_GG10 = '{b|dN/dt (×10/20 ps}{p|−1}{b|)}';
const YN_GG1 = '{b|dN/dt (×1/20 ps}{p|−1}{b|)}';
const XN_E = '{m|Energy (keV)}';
const XN_RF = '{m|Δtime}{s|γγ−RF}{m| (ns)}';
const XN_GG = '{m|Δtime}{s|γγ}{m| (ns)}';

// ---------------- layout ----------------
const COL_X = [128, 460, 792, 1123];
const ROW_Y = [103, 383, 660];
const ROW_H = [207, 205, 208];
const PW = 260;

const X_AXES: any = {
  E: { min: 0, max: 1300, step: 300, minor: 2, labels: ENERGY_TICKS, name: XN_E },
  RF: { min: 0, max: 400, step: 100, minor: 4, labels: RF_TICKS, name: XN_RF },
  GG: { min: 6, max: 34, step: 5, minor: 2, labels: GG_TICKS, name: XN_GG },
};

const PANELS: any[] = [
  { c: 0, r: 0, ax: 'E', y: [-0.5, 10, 2, 2], yl: P1_YTICKS, yn: YN_E100, gap: 27, lines: [[E_BEAM_THRESH, 1]] },
  { c: 1, r: 0, ax: 'E', y: [-1.5, 24.2, 5, 2], yl: E_WIN_YTICKS, yn: YN_E1, gap: 39, lines: [[E_BEAM_WINDOW, 1]] },
  { c: 2, r: 0, ax: 'E', y: [-1.5, 24.2, 5, 2], yl: E_WIN_YTICKS, yn: YN_E1, gap: 39, lines: [[E_BEAM_PHOTOPEAK, 1]] },
  { c: 3, r: 0, ax: 'E', y: [-5, 99, 20, 2], yl: E_PAUSE_YTICKS, yn: YN_E1, gap: 40, lines: [[E_PAUSE_THRESH, 1]], fwhm: E_PAUSE_FWHM, notes: E_PAUSE_NOTES, noteSize: 16 },
  { c: 0, r: 1, ax: 'RF', y: [-0.35, 12.15, 2, 2], yl: RF1_YTICKS, yn: YN_RF1000, gap: 41, lines: [[RF_THRESH, 1]], dash: RF_GATE, fwhm: RF_THRESH_FWHM, notes: RF_THRESH_NOTES, tags: RF_THRESH_TAGS },
  { c: 1, r: 1, ax: 'RF', y: [-1.9, 29.8, 5, 2], yl: RF2_YTICKS, yn: YN_RF10, gap: 41, lines: [[RF_WINDOW, 1]], dash: RF_GATE, fwhm: RF_WINDOW_FWHM, notes: RF_WINDOW_NOTES, tags: RF_WINDOW_TAGS },
  { c: 2, r: 1, ax: 'RF', y: [-4.2, 68.4, 20, 2], yl: RF3_YTICKS, yn: YN_RF1, gap: 41, lines: [[RF_PHOTOPEAK, 1]], dash: RF_GATE, tags: RF_PHOTOPEAK_TAGS },
  { c: 0, r: 2, ax: 'GG', y: [-0.2, 3.69, 1, 2], yl: GG1_YTICKS, yn: YN_GG1000, gap: 41, lines: [[GG_THRESH_A, 1], [GG_THRESH_B, 2.2], [GG_THRESH_AB, 2.2]], fwhm: GG_THRESH_FWHM, notes: GG_THRESH_NOTES, tags: GG_THRESH_TAGS },
  { c: 1, r: 2, ax: 'GG', y: [-2.2, 30, 5, 2], yl: GG2_YTICKS, yn: YN_GG10, gap: 41, lines: [[GG_WINDOW_B, 1], [GG_WINDOW_A, 1], [GG_WINDOW_AB, 1.8]], fwhm: GG_WINDOW_FWHM, notes: GG_WINDOW_NOTES, tags: GG_WINDOW_TAGS },
  { c: 2, r: 2, ax: 'GG', y: [-5.5, 69.3, 20, 2], yl: GG3_YTICKS, yn: YN_GG1, gap: 41, lines: [[GG_PHOTOPEAK_AB, 1.1]], fwhm: GG_PHOTOPEAK_FWHM, notes: GG_PHOTOPEAK_NOTES, tags: GG_PHOTOPEAK_TAGS },
  { c: 3, r: 2, ax: 'GG', y: [-4, 55, 10, 2], yl: GG4_YTICKS, yn: YN_GG10, gap: 41, lines: [[GG_PAUSE_P, 1.6]], fwhm: GG_PAUSE_FWHM, notes: GG_PAUSE_NOTES, tags: GG_PAUSE_TAGS, tagSize: 28 },
];

const Y_RICH = {
  b: { fontFamily: FONT, fontWeight: 'bold', fontSize: 17, color: '#000', padding: [6, 0, 0, 0], verticalAlign: 'bottom', lineHeight: 19 },
  p: { fontFamily: FONT, fontWeight: 'bold', fontSize: 12, color: '#000', verticalAlign: 'top', lineHeight: 12 },
};
const X_RICH = {
  m: { fontFamily: FONT, fontWeight: 'bold', fontSize: 16, color: '#000', verticalAlign: 'top', lineHeight: 18 },
  s: { fontFamily: FONT, fontWeight: 'bold', fontSize: 12, color: '#000', verticalAlign: 'top', lineHeight: 14, padding: [9, 0, 0, 0] },
};
const tagRich = (size: number) => ({
  m: { fontFamily: FONT, fontSize: size, color: '#000', verticalAlign: 'top', lineHeight: size + 2 },
  s: { fontFamily: FONT, fontSize: Math.round(size * 0.55), color: '#000', verticalAlign: 'top', lineHeight: 14, padding: [Math.round(size * 0.5), 0, 0, 0] },
});

function fmt(labels: number[]) {
  return (v: number) => (labels.some((l) => Math.abs(l - v) < 1e-6) ? String(v) : '');
}

function axisCommon(min: number, max: number, step: number, minor: number) {
  return {
    type: 'value',
    min,
    max,
    minInterval: step,
    maxInterval: step,
    splitNumber: 5,
    scale: true,
    splitLine: { show: false },
    minorSplitLine: { show: false },
    axisLine: { show: true, onZero: false, lineStyle: { color: '#000', width: 2.6 } },
    axisTick: { show: true, inside: true, length: 8, lineStyle: { color: '#000', width: 2 } },
    minorTick: { show: true, splitNumber: minor, length: 4, lineStyle: { color: '#000', width: 2 } },
  };
}

const LABEL_STYLE = { color: '#000', fontSize: 18, fontWeight: 'bold', fontFamily: NUM_FONT };

function fwhmRender(params: any, api: any) {
  const y = api.value(4);
  const a = api.coord([api.value(0), y]);
  const l = api.coord([api.value(1), y]);
  const r = api.coord([api.value(2), y]);
  const b = api.coord([api.value(3), y]);
  const st = { stroke: '#000', lineWidth: 1, fill: 'none' };
  const H = 17;
  const V = 10;
  return {
    type: 'group',
    children: [
      { type: 'line', shape: { x1: a[0], y1: a[1], x2: l[0], y2: l[1] }, style: st },
      { type: 'polyline', shape: { points: [[l[0] - H, l[1] - V], [l[0], l[1]], [l[0] - H, l[1] + V]] }, style: st },
      { type: 'line', shape: { x1: r[0], y1: r[1], x2: b[0], y2: b[1] }, style: st },
      { type: 'polyline', shape: { points: [[r[0] + H, r[1] - V], [r[0], r[1]], [r[0] + H, r[1] + V]] }, style: st },
    ],
  };
}

function textSeries(i: number, items: any[], styleFn: (t: any) => any) {
  return {
    type: 'custom',
    xAxisIndex: 2 * i,
    yAxisIndex: 2 * i,
    silent: true,
    z: 6,
    data: items.map((t) => [t[1], t[2]]),
    renderItem: (params: any, api: any) => {
      const pt = api.coord([api.value(0), api.value(1)]);
      return { type: 'text', x: pt[0], y: pt[1], style: styleFn(items[params.dataIndex]) };
    },
  };
}

function buildOption() {
  const grid: any[] = [];
  const xAxis: any[] = [];
  const yAxis: any[] = [];
  const series: any[] = [];
  PANELS.forEach((p, i) => {
    const X = X_AXES[p.ax];
    grid.push({ left: COL_X[p.c], top: ROW_Y[p.r], width: PW, height: ROW_H[p.r], containLabel: false, outerBoundsMode: 'none' });
    xAxis.push({
      ...axisCommon(X.min, X.max, X.step, X.minor),
      gridIndex: i,
      position: 'bottom',
      axisLabel: { ...LABEL_STYLE, margin: 8, formatter: fmt(X.labels) },
      name: X.name,
      nameLocation: 'middle',
      nameGap: 33,
      nameTextStyle: { rich: X_RICH },
    });
    xAxis.push({ ...axisCommon(X.min, X.max, X.step, X.minor), gridIndex: i, position: 'top', axisLabel: { show: false } });
    const [ymin, ymax, ystep, yminor] = p.y;
    yAxis.push({
      ...axisCommon(ymin, ymax, ystep, yminor),
      gridIndex: i,
      position: 'left',
      axisLabel: { ...LABEL_STYLE, margin: 7, formatter: fmt(p.yl) },
      name: p.yn,
      nameLocation: 'middle',
      nameGap: p.gap,
      nameRotate: 90,
      nameTextStyle: { rich: Y_RICH },
    });
    yAxis.push({ ...axisCommon(ymin, ymax, ystep, yminor), gridIndex: i, position: 'right', axisLabel: { show: false } });

    p.lines.forEach((ln: any, k: number) => {
      const s: any = {
        type: 'line',
        xAxisIndex: 2 * i,
        yAxisIndex: 2 * i,
        data: ln[0],
        symbol: 'none',
        showSymbol: false,
        silent: true,
        clip: true,
        z: 3,
        lineStyle: { color: '#000', width: ln[1] },
      };
      if (k === 0 && p.dash) {
        s.markLine = {
          symbol: ['none', 'none'],
          silent: true,
          animation: false,
          label: { show: false },
          lineStyle: { color: '#000', type: [9, 5], width: 1.3 },
          data: p.dash.map((v: number) => ({ xAxis: v })),
        };
      }
      series.push(s);
    });
    if (p.fwhm) {
      series.push({
        type: 'custom',
        xAxisIndex: 2 * i,
        yAxisIndex: 2 * i,
        silent: true,
        z: 5,
        encode: { x: [0, 1, 2, 3], y: [4] },
        data: p.fwhm,
        renderItem: fwhmRender,
      });
    }
    if (p.notes) {
      const size = p.noteSize || 18;
      series.push(textSeries(i, p.notes, (t) => ({ text: t[0], fontFamily: FONT, fontSize: size, fill: '#000', align: 'center', verticalAlign: 'middle' })));
    }
    if (p.tags) {
      const rich = tagRich(p.tagSize || 24);
      series.push(textSeries(i, p.tags, (t) => ({ text: t[0], rich, fill: '#000', align: 'center', verticalAlign: 'middle' })));
    }
  });

  const SUB_RICH = {
    m: { fontFamily: FONT, fontWeight: 'bold', fontSize: 19, color: '#000', verticalAlign: 'top', lineHeight: 22 },
    s: { fontFamily: FONT, fontWeight: 'bold', fontSize: 15, color: '#000', verticalAlign: 'top', lineHeight: 16, padding: [10, 0, 0, 0] },
  };
  const graphic: any[] = [
    { type: 'rect', shape: { x: 124, y: 3, width: 931, height: 39 }, style: { fill: '#fff', stroke: '#555', lineWidth: 1.2 } },
    {
      type: 'text', x: 574, y: 22,
      style: {
        text: '{p|12}{m|C beam extraction}', align: 'center', verticalAlign: 'middle',
        rich: {
          p: { fontFamily: FONT, fontWeight: 'bold', fontSize: 14, color: '#000', verticalAlign: 'top', lineHeight: 14 },
          m: { fontFamily: FONT, fontSize: 28, color: '#000', verticalAlign: 'bottom', lineHeight: 30, padding: [3, 0, 0, 0] },
        },
      },
    },
    { type: 'rect', shape: { x: 1123, y: 3, width: 262, height: 39 }, style: { fill: '#fff', stroke: '#555', lineWidth: 1.2 } },
    { type: 'text', x: 1254, y: 23, style: { text: 'Extraction pause', fontFamily: FONT, fontSize: 28, fill: '#000', align: 'center', verticalAlign: 'middle' } },
    { type: 'text', x: 258, y: 72, style: { text: '{m|E}{s|thresh.}{m|~ 300 keV}', rich: SUB_RICH, align: 'center', verticalAlign: 'middle' } },
    { type: 'text', x: 586, y: 73, style: { text: '{m|E = [300,850]keV}', rich: SUB_RICH, align: 'center', verticalAlign: 'middle' } },
    { type: 'text', x: 902, y: 73, style: { text: '{m|E = photopeak}', rich: SUB_RICH, align: 'center', verticalAlign: 'middle' } },
    { type: 'text', x: 1254, y: 79, style: { text: '{m|E}{s|thresh.}{m|~ 300 keV}', rich: SUB_RICH, align: 'center', verticalAlign: 'middle' } },
    { type: 'text', x: 28, y: 213, rotation: Math.PI / 2, style: { text: 'Energy (pix. 16)', fontFamily: FONT, fontSize: 29, fill: '#000', align: 'center', verticalAlign: 'middle' } },
    { type: 'text', x: 28, y: 505, rotation: Math.PI / 2, style: { text: 'Time (γγ−RF)', fontFamily: FONT, fontSize: 29, fill: '#000', align: 'center', verticalAlign: 'middle' } },
    { type: 'text', x: 28, y: 772, rotation: Math.PI / 2, style: { text: 'Time (γγ)', fontFamily: FONT, fontSize: 29, fill: '#000', align: 'center', verticalAlign: 'middle' } },
    { type: 'rect', shape: { x: 1123, y: 382, width: 261, height: 208 }, style: { fill: 'none', stroke: '#000', lineWidth: 1.5 } },
    { type: 'text', x: 1254, y: 455, style: { text: 'Particle acceleration,', fontFamily: FONT, fontSize: 17, fill: '#000', align: 'center', verticalAlign: 'middle' } },
    { type: 'text', x: 1254, y: 495, style: { text: 'measurement inhibited', fontFamily: FONT, fontSize: 17, fill: '#000', align: 'center', verticalAlign: 'middle' } },
    { type: 'text', x: 1254, y: 535, style: { text: '(RF−period not constant)', fontFamily: FONT, fontSize: 17, fill: '#000', align: 'center', verticalAlign: 'middle' } },
  ];

  return { animation: false, backgroundColor: '#fff', grid, xAxis, yAxis, series, graphic };
}

export default function App() {
  const ref = useRef<HTMLDivElement>(null);
  useEffect(() => {
    if (!ref.current) return;
    const chart = echarts.init(ref.current, null, { renderer: 'svg' });
    chart.setOption(buildOption() as any);
    return () => chart.dispose();
  }, []);
  return <div ref={ref} style={{ position: 'absolute', left: 0, top: 0, width: 1407, height: 931, background: '#fff' }} />;
}
